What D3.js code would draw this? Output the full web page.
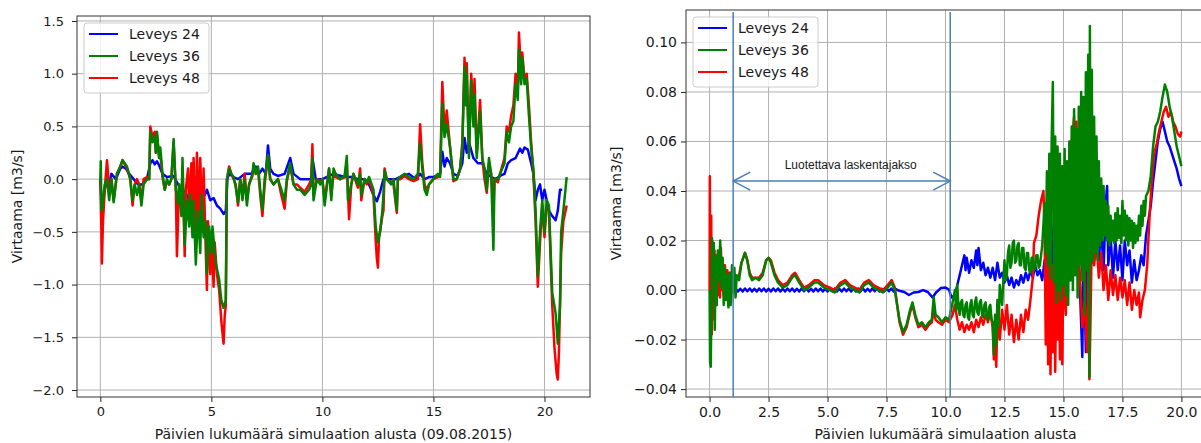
<!DOCTYPE html>
<html>
<head>
<meta charset="utf-8">
<script src="https://cdn.jsdelivr.net/npm/d3@7"></script>
<style>
  body { margin: 0; background: #fff; }
  svg { display: block; }
  text { font-family: "DejaVu Sans", sans-serif; fill: #1a1a1a; }
</style>
</head>
<body>
<svg id="chart" width="1201" height="443"></svg>
<script>
// legend order and colours (matplotlib b / g / r)
const seriesNames = ['Leveys 24', 'Leveys 36', 'Leveys 48'];
const seriesColors = ['#0000ff', '#008000', '#ff0000'];

const leftXTicks = [0, 5, 10, 15, 20];
const leftYTicks = [-2.0, -1.5, -1.0, -0.5, 0.0, 0.5, 1.0, 1.5];
const rightXTicks = [0, 2.5, 5, 7.5, 10, 12.5, 15, 17.5, 20];
const rightYTicks = [-0.04, -0.02, 0.0, 0.02, 0.04, 0.06, 0.08, 0.10];

const leftXLabel = 'Päivien lukumäärä simulaation alusta (09.08.2015)';
const rightXLabel = 'Päivien lukumäärä simulaation alusta';
const yLabel = 'Virtaama [m3/s]';

// reliable period marked on the right chart
const reliableStart = 1.0;
const reliableEnd = 10.2;
const reliableArrowY = 0.044;
const reliableLabel = 'Luotettava laskentajakso';

// left chart, [day, flow]
const leftBlue = [
  [0.00,0.00],[0.05,-0.20],[0.10,-0.25],[0.20,-0.10],[0.30,0.00],[0.40,-0.05],[0.50,0.05],[0.70,0.00],
  [0.90,0.10],[1.00,0.12],[1.15,0.10],[1.30,0.05],[1.50,0.00],[1.70,-0.05],[1.90,-0.05],[2.10,0.00],
  [2.25,0.15],[2.35,0.18],[2.45,0.14],[2.55,0.17],[2.65,0.13],[2.80,0.05],[3.00,0.02],[3.30,0.03],
  [3.50,-0.05],[3.70,-0.10],[3.90,-0.15],[4.05,-0.22],[4.20,-0.10],[4.35,-0.16],[4.50,-0.12],[4.60,-0.05],
  [4.70,-0.15],[4.80,-0.10],[4.95,-0.20],[5.10,-0.18],[5.25,-0.25],[5.40,-0.28],[5.55,-0.33],[5.65,-0.30],
  [5.72,0.00],[5.80,0.05],[6.00,0.02],[6.20,0.00],[6.50,0.05],[6.80,0.05],[7.00,0.12],[7.15,0.05],
  [7.30,0.10],[7.45,0.05],[7.55,0.32],[7.65,0.10],[7.80,0.05],[8.00,0.03],[8.30,0.05],[8.55,0.20],
  [8.70,0.05],[9.00,0.00],[9.20,0.00],[9.50,0.00],[9.55,0.20],[9.70,0.00],[10.00,0.00],[10.30,0.03],
  [10.50,0.05],[11.00,0.02],[11.30,0.02],[11.60,0.00],[11.90,0.00],[12.10,-0.05],[12.30,-0.15],[12.45,-0.21],
  [12.60,-0.12],[12.75,0.00],[13.00,0.00],[13.30,0.00],[13.60,0.03],[13.90,0.05],[14.20,0.00],[14.40,0.05],
  [14.60,0.00],[14.80,0.02],[15.00,0.02],[15.30,0.05],[15.40,0.26],[15.50,0.12],[15.60,0.20],[15.75,0.15],
  [15.90,0.05],[16.10,0.03],[16.30,0.15],[16.40,0.39],[16.50,0.25],[16.60,0.35],[16.80,0.20],[17.00,0.15],
  [17.20,0.15],[17.40,0.05],[17.60,0.02],[17.80,0.00],[18.00,0.03],[18.20,0.05],[18.35,0.15],[18.50,0.18],
  [18.70,0.20],[18.90,0.29],[19.00,0.25],[19.10,0.30],[19.25,0.28],[19.40,0.15],[19.50,0.05],[19.60,-0.20],
  [19.70,-0.10],[19.80,-0.05],[19.90,-0.20],[20.00,-0.10],[20.10,-0.20],[20.20,-0.30],[20.35,-0.35],[20.50,-0.39],
  [20.60,-0.30],[20.70,-0.10],[20.80,-0.10]
];
const leftGreen = [
  [0.00,0.00],[0.02,0.17],[0.05,-0.30],[0.10,-0.25],[0.20,-0.05],[0.30,0.00],[0.40,-0.20],[0.50,0.00],
  [0.60,-0.22],[0.75,0.05],[0.90,0.12],[1.00,0.18],[1.20,0.12],[1.35,0.00],[1.45,-0.20],[1.55,-0.05],
  [1.65,-0.15],[1.75,-0.05],[1.85,-0.25],[1.95,-0.05],[2.10,0.00],[2.20,0.00],[2.25,0.45],[2.35,0.35],
  [2.45,0.40],[2.50,0.25],[2.55,0.45],[2.65,0.20],[2.70,0.30],[2.80,0.05],[2.90,-0.10],[3.00,0.00],
  [3.10,-0.05],[3.20,0.00],[3.30,0.38],[3.40,-0.10],[3.50,-0.23],[3.55,-0.05],[3.65,-0.35],[3.70,0.20],
  [3.80,-0.62],[3.90,-0.20],[4.00,-0.45],[4.05,-0.15],[4.15,-0.55],[4.20,-0.20],[4.30,-0.81],[4.40,-0.30],
  [4.50,-0.70],[4.55,-0.15],[4.65,-0.55],[4.75,-0.40],[4.80,-0.89],[4.90,-0.45],[5.00,-0.70],[5.05,-0.45],
  [5.20,-0.80],[5.35,-0.95],[5.45,-1.15],[5.55,-1.22],[5.65,-1.15],[5.70,0.00],[5.80,0.10],[5.90,0.05],
  [6.00,0.02],[6.10,-0.08],[6.20,-0.22],[6.30,0.00],[6.40,-0.20],[6.50,0.00],[6.60,-0.25],[6.70,-0.05],
  [6.85,0.05],[6.90,0.15],[7.00,0.05],[7.10,0.12],[7.20,-0.10],[7.30,-0.29],[7.40,0.00],[7.55,0.23],
  [7.65,0.00],[7.80,-0.05],[8.00,0.00],[8.15,-0.10],[8.30,-0.20],[8.40,0.00],[8.55,0.15],[8.70,-0.05],
  [8.85,-0.10],[9.00,-0.10],[9.20,-0.15],[9.40,-0.10],[9.50,-0.05],[9.55,0.20],[9.60,-0.20],[9.75,0.00],
  [9.90,-0.05],[10.00,0.00],[10.10,-0.25],[10.30,0.10],[10.40,-0.20],[10.50,0.10],[10.60,0.05],[10.80,0.00],
  [11.00,0.03],[11.10,0.22],[11.15,-0.20],[11.30,-0.05],[11.40,0.05],[11.50,0.00],[11.60,-0.05],[11.70,0.05],
  [11.75,-0.15],[11.90,0.00],[12.00,-0.03],[12.10,0.02],[12.30,-0.10],[12.40,-0.45],[12.50,-0.60],[12.60,-0.50],
  [12.70,-0.30],[12.75,-0.15],[12.80,0.08],[12.90,0.00],[13.10,-0.05],[13.20,0.00],[13.35,-0.29],[13.40,0.00],
  [13.50,0.02],[13.70,0.05],[13.90,0.02],[14.10,0.00],[14.30,0.05],[14.40,0.34],[14.50,0.10],[14.60,-0.10],
  [14.70,-0.15],[14.80,-0.05],[15.00,0.00],[15.20,0.05],[15.30,0.02],[15.40,0.72],[15.50,0.40],[15.60,0.52],
  [15.75,0.30],[15.90,0.00],[16.05,0.00],[16.20,0.10],[16.30,0.30],[16.40,1.07],[16.45,0.70],[16.50,1.00],
  [16.60,0.20],[16.70,0.94],[16.80,0.50],[16.85,0.80],[16.95,0.20],[17.00,0.35],[17.10,0.65],[17.20,0.20],
  [17.30,0.10],[17.40,-0.10],[17.50,0.20],[17.60,0.05],[17.70,-0.67],[17.75,0.00],[17.90,0.00],[18.00,0.05],
  [18.20,0.15],[18.30,0.45],[18.40,0.35],[18.50,0.50],[18.60,0.55],[18.70,0.90],[18.80,0.75],[18.85,1.23],
  [18.95,0.90],[19.00,1.15],[19.10,0.90],[19.20,0.95],[19.30,0.60],[19.40,0.30],[19.50,0.10],[19.60,-0.30],
  [19.70,-0.92],[19.80,-0.50],[19.90,-0.20],[20.00,-0.50],[20.10,-0.20],[20.20,-0.25],[20.35,-1.08],[20.50,-1.27],
  [20.60,-1.56],[20.70,-1.20],[20.75,-0.50],[20.85,-0.30],[21.00,0.02]
];
const leftRed = [
  [0.00,0.00],[0.05,-0.50],[0.07,-0.80],[0.12,-0.40],[0.20,-0.10],[0.30,0.18],[0.40,-0.10],[0.50,0.00],
  [0.60,-0.20],[0.75,0.05],[0.90,0.12],[1.00,0.18],[1.20,0.10],[1.35,0.00],[1.45,-0.25],[1.55,-0.05],
  [1.65,0.00],[1.75,-0.05],[1.85,-0.20],[1.95,0.00],[2.10,0.02],[2.20,0.00],[2.25,0.50],[2.35,0.40],
  [2.45,0.45],[2.50,0.25],[2.55,0.42],[2.65,0.20],[2.70,0.25],[2.80,0.02],[2.90,-0.10],[3.00,-0.02],
  [3.10,-0.05],[3.20,0.00],[3.30,0.35],[3.40,-0.10],[3.45,-0.73],[3.55,-0.05],[3.65,-0.30],[3.70,0.10],
  [3.80,-0.73],[3.85,-0.10],[3.95,0.10],[4.00,-0.30],[4.10,0.15],[4.15,-0.50],[4.20,0.20],[4.30,-0.60],
  [4.35,0.25],[4.45,-0.40],[4.50,0.20],[4.60,-0.50],[4.65,0.10],[4.75,-0.70],[4.80,-1.05],[4.85,-0.40],
  [4.95,-0.90],[5.00,-0.50],[5.10,-1.02],[5.15,-0.60],[5.25,-0.90],[5.35,-1.05],[5.45,-1.35],[5.55,-1.56],
  [5.60,-1.30],[5.65,-1.20],[5.70,0.00],[5.80,0.12],[5.90,0.05],[6.00,0.00],[6.10,-0.05],[6.20,-0.25],
  [6.30,0.00],[6.40,-0.15],[6.50,0.05],[6.60,-0.20],[6.70,-0.05],[6.85,0.03],[6.90,0.12],[7.00,0.05],
  [7.10,0.10],[7.20,-0.15],[7.30,-0.35],[7.40,-0.05],[7.55,0.22],[7.65,0.00],[7.80,-0.05],[8.00,0.00],
  [8.15,-0.15],[8.30,-0.28],[8.40,-0.02],[8.55,0.13],[8.70,-0.05],[8.85,-0.05],[9.00,-0.08],[9.20,-0.12],
  [9.40,-0.05],[9.50,0.00],[9.55,0.33],[9.60,-0.15],[9.75,0.00],[9.90,-0.02],[10.00,0.00],[10.10,-0.20],
  [10.30,0.10],[10.40,-0.15],[10.50,0.05],[10.60,0.02],[10.80,0.00],[11.00,0.02],[11.10,0.15],[11.20,-0.38],
  [11.30,-0.05],[11.40,0.05],[11.50,-0.02],[11.60,-0.08],[11.70,0.10],[11.75,-0.20],[11.90,0.00],[12.00,-0.05],
  [12.10,0.00],[12.30,-0.15],[12.40,-0.58],[12.45,-0.75],[12.50,-0.84],[12.55,-0.55],[12.70,-0.35],[12.75,-0.30],
  [12.80,0.10],[12.90,0.00],[13.10,-0.03],[13.20,-0.05],[13.35,-0.32],[13.40,0.00],[13.50,0.00],[13.70,0.03],
  [13.90,0.00],[14.10,-0.02],[14.30,0.00],[14.40,0.52],[14.50,0.15],[14.60,-0.05],[14.70,-0.10],[14.80,-0.05],
  [15.00,0.00],[15.20,0.02],[15.30,0.05],[15.40,0.92],[15.50,0.45],[15.60,0.65],[15.75,0.30],[15.90,-0.02],
  [16.05,0.00],[16.20,0.10],[16.30,0.35],[16.40,1.15],[16.45,0.80],[16.50,1.10],[16.60,0.25],[16.70,1.00],
  [16.80,0.60],[16.85,0.95],[16.95,0.25],[17.00,0.40],[17.10,0.75],[17.20,0.20],[17.30,0.00],[17.40,-0.13],
  [17.50,0.15],[17.60,0.05],[17.70,-0.30],[17.75,0.00],[17.90,-0.03],[18.00,0.05],[18.20,0.20],[18.30,0.50],
  [18.40,0.45],[18.50,0.60],[18.60,0.70],[18.70,1.00],[18.80,0.85],[18.85,1.39],[18.95,1.00],[19.00,1.20],
  [19.10,0.95],[19.20,1.00],[19.30,0.70],[19.40,0.35],[19.50,0.05],[19.60,-0.40],[19.70,-1.02],[19.80,-0.60],
  [19.90,-0.25],[20.00,-0.55],[20.10,-0.25],[20.20,-0.30],[20.35,-1.20],[20.45,-1.60],[20.55,-1.85],[20.60,-1.90],
  [20.65,-1.65],[20.75,-0.70],[20.85,-0.40],[21.00,-0.25]
];

// right chart, [day, flow]
const rightBlue = [
  [0.0,0.0000],[0.1,0.0005],[0.2,-0.0006],[0.3,0.0006],[0.4,-0.0005],[0.5,0.0006],[0.6,-0.0006],[0.7,0.0005],
  [0.8,-0.0006],[0.9,0.0006],[1.0,-0.0005],[1.1,0.0006],[1.2,-0.0006],[1.3,0.0005],[1.4,-0.0006],[1.5,0.0006],
  [1.6,-0.0005],[1.7,0.0006],[1.8,-0.0006],[1.9,0.0005],[2.0,-0.0006],[2.1,0.0006],[2.2,-0.0005],[2.3,0.0006],
  [2.4,-0.0006],[2.5,0.0005],[2.6,-0.0006],[2.7,0.0006],[2.8,-0.0005],[2.9,0.0006],[3.0,-0.0006],[3.1,0.0005],
  [3.2,-0.0006],[3.3,0.0006],[3.4,-0.0005],[3.5,0.0006],[3.6,-0.0006],[3.7,0.0005],[3.8,-0.0006],[3.9,0.0006],
  [4.0,-0.0005],[4.1,0.0006],[4.2,-0.0006],[4.3,0.0005],[4.4,-0.0006],[4.5,0.0006],[4.6,-0.0005],[4.7,0.0006],
  [4.8,-0.0006],[4.9,0.0005],[5.0,-0.0006],[5.1,0.0006],[5.2,-0.0005],[5.3,0.0006],[5.4,-0.0006],[5.5,0.0005],
  [5.6,-0.0006],[5.7,0.0006],[5.8,-0.0005],[5.9,0.0006],[6.0,-0.0006],[6.1,0.0005],[6.2,-0.0006],[6.3,0.0006],
  [6.4,-0.0005],[6.5,0.0006],[6.6,-0.0006],[6.7,0.0005],[6.8,-0.0006],[6.9,0.0006],[7.0,-0.0005],[7.1,0.0006],
  [7.2,-0.0006],[7.3,0.0005],[7.4,-0.0006],[7.5,0.0006],[7.6,-0.0005],[7.7,0.0006],[7.8,-0.0006],[7.9,0.0004],
  [8.00,-0.0002],[8.25,-0.0008],[8.45,-0.0020],[8.65,-0.0010],[8.85,-0.0008],[9.05,0.0000],[9.25,-0.0008],[9.45,-0.0030],
  [9.60,-0.0010],[9.80,0.0008],[10.00,0.0010],[10.15,0.0002],[10.25,-0.0030],[10.40,-0.0020],[10.50,0.0020],[10.60,0.0060],
  [10.70,0.0100],[10.80,0.0140],[10.85,0.0080],[10.90,0.0130],[11.00,0.0070],[11.10,0.0120],[11.20,0.0090],[11.30,0.0160],
  [11.35,0.0100],[11.40,0.0170],[11.50,0.0080],[11.60,0.0110],[11.70,0.0060],[11.80,0.0090],[11.90,0.0050],[12.00,0.0090],
  [12.10,0.0040],[12.20,0.0110],[12.30,0.0050],[12.40,0.0070],[12.50,0.0030],[12.60,0.0060],[12.70,0.0020],[12.80,0.0050],
  [12.90,0.0010],[13.00,0.0040],[13.10,0.0020],[13.20,0.0060],[13.30,0.0030],[13.40,0.0070],[13.50,0.0040],[13.60,0.0080],
  [13.70,0.0050],[13.80,0.0100],[13.90,0.0060],[14.00,0.0080],[14.10,0.0040],[14.20,0.0120],[14.30,0.0060],[14.40,0.0200],
  [14.50,0.0100],[14.60,0.0300],[14.70,0.0050],[14.80,0.0280],[14.90,0.0020],[15.00,0.0320],[15.10,0.0060],[15.20,0.0300],
  [15.30,0.0040],[15.40,0.0350],[15.50,0.0080],[15.60,0.0300],[15.70,0.0000],[15.80,-0.0270],[15.85,0.0200],[15.95,-0.0250],
  [16.00,0.0280],[16.10,0.0100],[16.20,0.0320],[16.30,0.0150],[16.40,0.0300],[16.50,0.0120],[16.60,0.0250],[16.70,0.0080],
  [16.80,0.0360],[16.85,0.0420],[16.90,0.0100],[17.00,0.0220],[17.10,0.0050],[17.20,0.0200],[17.30,0.0080],[17.40,0.0180],
  [17.50,0.0040],[17.60,0.0200],[17.70,0.0100],[17.80,0.0160],[17.90,0.0030],[18.00,0.0120],[18.10,0.0040],[18.20,0.0080],
  [18.30,0.0140],[18.40,0.0100],[18.50,0.0220],[18.60,0.0280],[18.70,0.0340],[18.80,0.0440],[18.90,0.0520],[19.00,0.0600],
  [19.10,0.0650],[19.20,0.0680],[19.30,0.0640],[19.40,0.0600],[19.50,0.0580],[19.60,0.0550],[19.70,0.0520],[19.80,0.0490],
  [19.90,0.0450],[20.00,0.0420]
];
const rightGreen = [
  [0.00,0.000],[0.02,-0.029],[0.05,-0.031],[0.08,0.004],[0.10,0.021],[0.14,0.008],[0.18,0.019],[0.22,-0.016],
  [0.26,0.013],[0.30,-0.006],[0.35,0.016],[0.40,0.004],[0.45,0.020],[0.50,0.001],[0.55,0.013],[0.60,-0.006],
  [0.65,0.009],[0.70,-0.004],[0.75,0.006],[0.80,-0.007],[0.85,0.007],[0.90,-0.006],[0.95,0.010],[1.00,-0.001],
  [1.05,0.009],[1.10,-0.003],[1.15,0.006],[1.25,0.004],[1.35,0.011],[1.50,0.015],[1.60,0.012],[1.70,0.006],
  [1.80,0.004],[1.95,0.005],[2.10,0.004],[2.25,0.006],[2.40,0.012],[2.50,0.013],[2.60,0.011],[2.75,0.006],
  [2.90,0.003],[3.10,0.001],[3.30,0.002],[3.50,0.005],[3.62,0.006],[3.80,0.003],[4.00,0.000],[4.20,0.001],
  [4.45,0.003],[4.60,0.003],[4.85,0.001],[5.10,0.000],[5.30,-0.001],[5.55,0.002],[5.75,0.003],[5.95,0.001],
  [6.15,0.000],[6.35,-0.001],[6.55,0.002],[6.75,0.003],[6.95,0.001],[7.15,0.000],[7.35,-0.001],[7.55,0.001],
  [7.72,0.003],[7.85,0.000],[7.95,-0.006],[8.05,-0.012],[8.20,-0.017],[8.35,-0.014],[8.50,-0.008],[8.60,-0.005],
  [8.72,-0.010],[8.85,-0.014],[9.00,-0.013],[9.15,-0.015],[9.30,-0.013],[9.42,-0.012],[9.50,-0.003],[9.58,-0.010],
  [9.70,-0.011],[9.85,-0.013],[10.00,-0.011],[10.15,-0.012],[10.30,-0.005],[10.40,0.000],[10.45,-0.008],[10.50,0.002],
  [10.55,-0.007],[10.60,-0.010],[10.65,-0.005],[10.70,-0.004],[10.75,-0.010],[10.80,-0.011],[10.85,-0.006],[10.90,-0.005],
  [10.95,-0.011],[11.00,-0.012],[11.05,-0.006],[11.10,-0.004],[11.15,-0.010],[11.20,-0.011],[11.25,-0.005],[11.30,-0.003],
  [11.35,-0.009],[11.40,-0.010],[11.45,-0.005],[11.50,-0.004],[11.55,-0.010],[11.60,-0.011],[11.65,-0.006],[11.70,-0.005],
  [11.75,-0.011],[11.80,-0.012],[11.85,-0.007],[11.90,-0.006],[11.95,-0.012],[12.00,-0.013],[12.05,-0.026],
  [12.10,-0.010],[12.15,-0.022],[12.20,-0.004],[12.25,-0.015],[12.30,0.002],[12.40,-0.006],[12.50,0.012],[12.55,0.004],
  [12.60,0.006],[12.65,0.015],[12.70,0.018],[12.75,0.009],[12.80,0.011],[12.85,0.019],[12.90,0.020],[12.95,0.011],
  [13.00,0.012],[13.05,0.018],[13.10,0.019],[13.15,0.010],[13.20,0.010],[13.25,0.017],[13.30,0.017],[13.35,0.009],
  [13.40,0.008],[13.45,0.015],[13.50,0.015],[13.55,0.008],[13.60,0.007],[13.65,0.013],[13.70,0.013],[13.75,0.008],
  [13.80,0.009],[13.85,0.014],[13.90,0.014],[13.95,0.009],[14.00,0.010],[14.10,0.018],[14.20,0.035],
  [14.25,0.015],[14.30,0.048],[14.35,0.010],[14.40,0.055],[14.45,0.005],[14.50,0.060],[14.55,0.084],[14.60,0.003],
  [14.65,0.062],[14.70,-0.005],[14.75,0.058],[14.80,0.000],[14.85,0.055],[14.90,-0.004],[14.95,0.050],[15.00,0.002],
  [15.05,0.057],[15.10,-0.002],[15.15,0.052],[15.20,-0.006],[15.25,0.060],[15.30,0.004],[15.35,0.066],[15.40,0.000],
  [15.45,0.073],[15.50,0.006],[15.55,0.065],[15.60,-0.003],[15.65,0.074],[15.70,0.010],[15.75,0.080],[15.80,0.004],
  [15.85,0.078],[15.90,-0.010],[15.95,0.088],[16.00,0.008],[16.05,0.095],[16.10,-0.035],[16.12,0.1066],[16.15,0.010],
  [16.20,0.089],[16.25,0.012],[16.30,0.070],[16.35,0.015],[16.40,0.062],[16.45,0.012],[16.50,0.052],[16.55,0.018],
  [16.60,0.045],[16.65,0.020],[16.70,0.042],[16.75,0.022],[16.80,0.036],[16.85,0.020],[16.90,0.034],[16.95,0.018],
  [17.00,0.030],[17.05,0.020],[17.10,0.028],[17.15,0.019],[17.20,0.031],[17.25,0.020],[17.30,0.033],[17.35,0.021],
  [17.40,0.030],[17.45,0.019],[17.50,0.036],[17.55,0.022],[17.60,0.032],[17.65,0.020],[17.70,0.030],[17.75,0.018],
  [17.80,0.029],[17.85,0.020],[17.90,0.028],[17.95,0.017],[18.00,0.027],[18.05,0.019],[18.10,0.026],[18.15,0.020],
  [18.20,0.030],[18.25,0.022],[18.30,0.034],[18.35,0.026],[18.40,0.036],[18.45,0.030],[18.50,0.038],[18.60,0.040],
  [18.70,0.046],[18.80,0.058],[18.90,0.066],[19.00,0.068],[19.10,0.072],[19.20,0.078],
  [19.30,0.083],[19.40,0.080],[19.50,0.074],[19.60,0.070],[19.70,0.064],[19.80,0.058],[19.90,0.054],[20.00,0.050]
];
const rightRed = [
  [0.00,0.000],[0.01,0.046],[0.03,-0.010],[0.05,-0.025],[0.07,0.030],[0.09,-0.018],[0.11,0.020],[0.13,-0.012],
  [0.15,0.018],[0.18,-0.008],[0.21,0.016],[0.24,-0.005],[0.27,0.014],[0.30,-0.006],[0.33,0.013],[0.36,-0.002],
  [0.40,0.015],[0.44,-0.003],[0.48,0.017],[0.52,0.000],[0.56,0.012],[0.60,-0.002],[0.65,0.010],[0.70,-0.004],
  [0.75,0.008],[0.80,-0.006],[0.85,0.007],[0.90,-0.005],[0.95,0.006],[1.00,0.002],[1.10,0.004],[1.25,0.006],
  [1.35,0.011],[1.50,0.015],[1.60,0.012],[1.70,0.007],[1.80,0.005],[1.95,0.005],[2.10,0.005],[2.25,0.007],
  [2.40,0.012],[2.50,0.013],[2.60,0.012],[2.75,0.007],[2.90,0.004],[3.10,0.002],[3.30,0.003],[3.50,0.006],
  [3.62,0.007],[3.80,0.004],[4.00,0.001],[4.20,0.002],[4.45,0.004],[4.60,0.004],[4.85,0.002],[5.10,0.001],
  [5.30,0.000],[5.55,0.003],[5.75,0.004],[5.95,0.002],[6.15,0.001],[6.35,0.000],[6.55,0.003],[6.75,0.004],
  [6.95,0.002],[7.15,0.001],[7.35,0.000],[7.55,0.002],[7.72,0.004],[7.85,0.001],[7.95,-0.006],[8.05,-0.013],
  [8.20,-0.018],[8.35,-0.015],[8.50,-0.009],[8.60,-0.006],[8.72,-0.011],[8.85,-0.015],[9.00,-0.014],[9.15,-0.016],
  [9.30,-0.014],[9.42,-0.013],[9.50,-0.008],[9.58,-0.012],[9.70,-0.013],[9.85,-0.014],[10.00,-0.012],[10.15,-0.013],
  [10.30,-0.010],[10.40,-0.006],[10.50,-0.012],[10.60,-0.016],[10.70,-0.013],[10.80,-0.017],[10.90,-0.014],[11.00,-0.016],
  [11.10,-0.013],[11.20,-0.017],[11.30,-0.012],[11.40,-0.015],[11.50,-0.011],[11.60,-0.014],[11.70,-0.010],[11.80,-0.013],
  [11.90,-0.009],[12.00,-0.015],[12.05,-0.028],[12.10,-0.018],[12.15,-0.031],[12.20,-0.012],[12.30,-0.020],[12.40,-0.008],
  [12.50,-0.016],[12.60,-0.006],[12.70,-0.018],[12.80,-0.010],[12.90,-0.021],[13.00,-0.012],[13.10,-0.020],[13.20,-0.010],
  [13.30,-0.017],[13.40,-0.008],[13.50,-0.012],[13.60,-0.004],[13.70,0.005],[13.75,0.019],[13.85,0.022],[13.95,0.030],
  [14.05,0.036],[14.15,0.040],[14.20,0.025],[14.25,-0.022],[14.30,0.030],[14.35,-0.030],[14.40,0.020],[14.45,-0.034],
  [14.50,0.010],[14.55,-0.025],[14.60,0.015],[14.65,-0.033],[14.70,0.005],[14.75,-0.020],[14.80,0.012],[14.85,-0.028],
  [14.90,0.000],[14.95,-0.030],[15.00,0.010],[15.10,-0.010],[15.20,0.040],[15.30,0.055],[15.40,0.064],[15.45,0.070],
  [15.50,0.045],[15.55,0.068],[15.60,0.020],[15.70,0.005],[15.80,-0.015],[15.90,-0.005],[16.00,-0.025],[16.05,0.010],
  [16.10,-0.036],[16.15,-0.010],[16.20,0.020],[16.30,0.010],[16.40,0.020],[16.50,0.005],[16.60,0.015],[16.70,0.000],
  [16.80,0.010],[16.90,-0.004],[17.00,0.008],[17.10,-0.002],[17.20,0.006],[17.30,-0.004],[17.40,0.005],[17.50,-0.003],
  [17.60,0.004],[17.70,-0.006],[17.80,0.003],[17.90,-0.008],[18.00,0.000],[18.10,-0.006],[18.20,-0.001],[18.25,-0.011],
  [18.35,-0.004],[18.45,0.000],[18.55,0.010],[18.65,0.030],[18.75,0.045],[18.85,0.055],[18.95,0.059],[19.05,0.064],
  [19.15,0.068],[19.25,0.072],[19.35,0.074],[19.45,0.070],[19.55,0.072],[19.65,0.068],[19.75,0.066],[19.85,0.063],
  [19.95,0.062],[20.00,0.064]
];

const svg = d3.select('#chart');

function drawPanel(p) {
  const x = d3.scaleLinear().domain(p.xDomain).range([p.left, p.right]);
  const y = d3.scaleLinear().domain(p.yDomain).range([p.bottom, p.top]);
  const g = svg.append('g');

  // grid
  g.append('g').selectAll('line').data(p.xTicks).join('line')
    .attr('x1', d => x(d)).attr('x2', d => x(d))
    .attr('y1', p.top).attr('y2', p.bottom)
    .attr('stroke', '#b0b0b0').attr('stroke-width', 1);
  g.append('g').selectAll('line').data(p.yTicks).join('line')
    .attr('x1', p.left).attr('x2', p.right)
    .attr('y1', d => y(d)).attr('y2', d => y(d))
    .attr('stroke', '#b0b0b0').attr('stroke-width', 1);

  // data lines
  const clipId = 'clip-' + p.id;
  svg.append('clipPath').attr('id', clipId).append('rect')
    .attr('x', p.left).attr('y', p.top)
    .attr('width', p.right - p.left).attr('height', p.bottom - p.top);
  const line = d3.line().x(d => x(d[0])).y(d => y(d[1]));
  g.append('g').attr('clip-path', `url(#${clipId})`)
    .selectAll('path').data(p.series).join('path')
    .attr('d', d => line(d.values))
    .attr('fill', 'none')
    .attr('stroke', d => d.color)
    .attr('stroke-width', 2.5)
    .attr('stroke-linejoin', 'round');

  // axes
  const xAxis = d3.axisBottom(x).tickValues(p.xTicks).tickFormat(p.xFmt)
    .tickSize(5).tickPadding(5).tickSizeOuter(0);
  const yAxis = d3.axisLeft(y).tickValues(p.yTicks).tickFormat(p.yFmt)
    .tickSize(5).tickPadding(p.yPad).tickSizeOuter(0);
  const gx = g.append('g').attr('transform', `translate(0,${p.bottom})`).call(xAxis);
  const gy = g.append('g').attr('transform', `translate(${p.left},0)`).call(yAxis);
  [gx, gy].forEach(a => {
    a.select('.domain').remove();
    a.selectAll('line').attr('stroke', '#222');
    a.selectAll('text').attr('font-family', '"DejaVu Sans", sans-serif')
      .attr('font-size', p.tickSize).attr('fill', '#1a1a1a');
  });

  g.append('rect')
    .attr('x', p.left).attr('y', p.top)
    .attr('width', p.right - p.left).attr('height', p.bottom - p.top)
    .attr('fill', 'none').attr('stroke', '#333').attr('stroke-width', 1);

  g.append('text')
    .attr('x', (p.left + p.right) / 2).attr('y', 439)
    .attr('text-anchor', 'middle').attr('font-size', 14)
    .text(p.xLabel);
  g.append('text')
    .attr('transform', `translate(${p.yLabelX},${(p.top + p.bottom) / 2}) rotate(-90)`)
    .attr('text-anchor', 'middle').attr('font-size', 14)
    .text(yLabel);

  // legend
  const lg = g.append('g').attr('transform', `translate(${p.legend[0]},${p.legend[1]})`);
  lg.append('rect').attr('width', 125).attr('height', 70).attr('rx', 3)
    .attr('fill', '#fff').attr('fill-opacity', 0.8)
    .attr('stroke', '#cccccc');
  const rows = lg.selectAll('g').data(seriesNames).join('g')
    .attr('transform', (d, i) => `translate(0,${11 + i * 22})`);
  rows.append('line').attr('x1', 5).attr('x2', 34)
    .attr('stroke', (d, i) => seriesColors[i]).attr('stroke-width', 2);
  rows.append('text').attr('x', 45).attr('dy', '0.35em')
    .attr('font-size', 14).text(d => d);

  return { x, y, g };
}

const leftPanel = drawPanel({
  id: 'left', left: 77, right: 590, top: 16, bottom: 397,
  xDomain: [-1.05, 22.05], yDomain: [-2.066, 1.547],
  xTicks: leftXTicks, yTicks: leftYTicks,
  xFmt: d3.format('d'), yFmt: d3.format('.1f'), yPad: 8, tickSize: 13,
  xLabel: leftXLabel, yLabelX: 22, legend: [84, 23],
  series: [
    { color: seriesColors[0], values: leftBlue },
    { color: seriesColors[2], values: leftRed },
    { color: seriesColors[1], values: leftGreen }
  ]
});

const rightPanel = drawPanel({
  id: 'right', left: 686, right: 1205, top: 10, bottom: 397,
  xDomain: [-1, 21], yDomain: [-0.0432, 0.1131],
  xTicks: rightXTicks, yTicks: rightYTicks,
  xFmt: d3.format('.1f'), yFmt: d3.format('.2f'), yPad: 4, tickSize: 14,
  xLabel: rightXLabel, yLabelX: 621, legend: [693, 17],
  series: [
    { color: seriesColors[0], values: rightBlue },
    { color: seriesColors[2], values: rightRed },
    { color: seriesColors[1], values: rightGreen }
  ]
});

// reliable period annotation (drawn on top, like in the source picture)
const rx = rightPanel.x, ry = rightPanel.y;
const ann = svg.append('g').attr('stroke', '#4a7ebb').attr('stroke-width', 1.5).attr('fill', 'none');
[reliableStart, reliableEnd].forEach(v => {
  ann.append('line').attr('x1', rx(v)).attr('x2', rx(v)).attr('y1', 12).attr('y2', 397);
});
const ay = ry(reliableArrowY);
const xa = rx(reliableStart), xb = rx(reliableEnd);
ann.append('line').attr('x1', xa).attr('x2', xb).attr('y1', ay).attr('y2', ay);
ann.append('path').attr('d', `M${xa + 17},${ay - 9}L${xa},${ay}L${xa + 17},${ay + 9}`);
ann.append('path').attr('d', `M${xb - 17},${ay - 9}L${xb},${ay}L${xb - 17},${ay + 9}`);
svg.append('text')
  .attr('x', (xa + xb) / 2 + 9).attr('y', ay - 12)
  .attr('text-anchor', 'middle')
  .style('font-family', '"Liberation Sans", Arial, sans-serif')
  .attr('font-size', 12).attr('fill', '#111')
  .text(reliableLabel);
</script>
</body>
</html>
